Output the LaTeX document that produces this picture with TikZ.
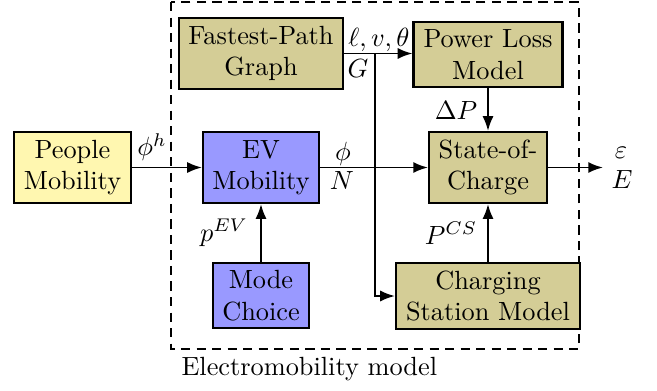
\documentclass[tikz,border=0pt]{standalone}
\usetikzlibrary{arrows.meta,calc}
\definecolor{pmyellow}{RGB}{255,247,176}
\definecolor{evblue}{RGB}{153,153,255}
\definecolor{olivebox}{RGB}{212,205,150}
\tikzset{
  blockbox/.style={draw=black, line width=0.8pt, align=center, inner sep=0pt},
  arr/.style={line width=0.75pt, -{Latex[length=5.6pt,width=4.2pt]}},
  lbl/.style={inner sep=0pt},
  dashedbox/.style={line width=0.8pt, dash pattern=on 3.5pt off 2.4pt}
}
\begin{document}
\begin{tikzpicture}[x=0.38pt,y=-0.38pt]
\useasboundingbox (0,0) rectangle (657,390);
\draw[dashedbox] (171,2) rectangle (579,349);
\node[anchor=west, lbl] (title) at (181,369) {Electromobility model};

\node[blockbox, fill=pmyellow, minimum width=44.5pt, minimum height=27pt] (people) at (72.5,167.5) {People\\Mobility};
\node[blockbox, fill=evblue, minimum width=44.1pt, minimum height=27pt] (ev) at (261,167.5) {EV\\Mobility};
\node[blockbox, fill=evblue, minimum width=36.5pt, minimum height=24.7pt] (mode) at (261,295.5) {Mode\\Choice};
\node[blockbox, fill=olivebox, minimum width=62.3pt, minimum height=27pt] (fpg) at (261,53.5) {Fastest-Path\\Graph};
\node[blockbox, fill=olivebox, minimum width=56.6pt, minimum height=24.7pt] (plm) at (488,54.5) {Power Loss\\Model};
\node[blockbox, fill=olivebox, minimum width=44.8pt, minimum height=27pt] (soc) at (488,167.5) {State-of-\\Charge};
\node[blockbox, fill=olivebox, minimum width=69.9pt, minimum height=25.1pt] (cs) at (488,296) {Charging\\Station Model};

\coordinate (j) at ($(fpg.east)+(31,0)$);
\coordinate (out) at ($(soc.east)+(55,0)$);

\draw[arr] (people) -- (ev);
\draw[arr] (ev) -- (soc);
\draw[arr] (fpg.east) -- (fpg.east -| plm.west);
\draw[arr] (j) |- (cs.west);
\draw[arr] (plm) -- (soc);
\draw[arr] (cs) -- (soc);
\draw[arr] (mode) -- (ev);
\draw[arr] (soc) -- (out);

\node[lbl] (lphih) at (152,147) {$\phi^h$};
\node[lbl] (lphi) at (343,154) {$\phi$};
\node[lbl] (lN) at (342,181) {$N$};
\node[lbl] (llvt) at (379,40) {$\ell,v,\theta$};
\node[lbl] (lG) at (358,69) {$G$};
\node[lbl] (ldP) at (456,111) {$\Delta P$};
\node[lbl] (lPcs) at (451,233) {$P^{CS}$};
\node[lbl] (lpev) at (224,233) {$p^{EV}$};
\node[lbl] (leps) at (621,153) {$\varepsilon$};
\node[lbl] (lE) at (622,180) {$E$};
\end{tikzpicture}
\end{document}
